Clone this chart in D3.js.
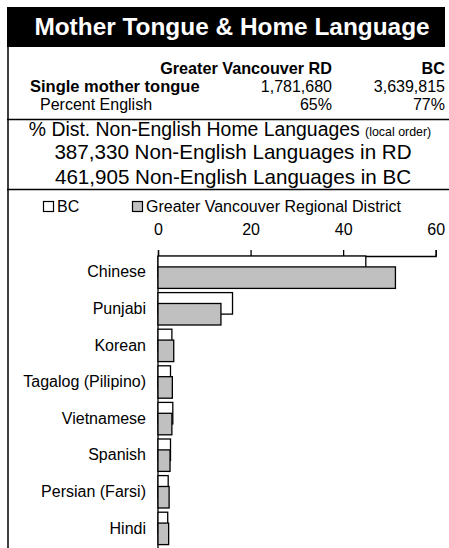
<!DOCTYPE html>
<html>
<head>
<meta charset="utf-8">
<script src="https://cdn.jsdelivr.net/npm/d3@7"></script>
<style>
  body { margin: 0; background: #fff; }
  text { font-family: "Liberation Sans", Arial, sans-serif; fill: #000; }
</style>
</head>
<body>
<script>
const languages = ["Chinese", "Punjabi", "Korean", "Tagalog (Pilipino)", "Vietnamese", "Spanish", "Persian (Farsi)", "Hindi"];
const bcValues = [44.9, 16.1, 3.0, 2.7, 3.2, 2.7, 2.2, 2.1];
const rdValues = [51.3, 13.6, 3.4, 3.1, 3.0, 2.6, 2.4, 2.3];
const xTicks = [0, 20, 40, 60];
const seriesNames = ["BC", "Greater Vancouver Regional District"];
const tableHeads = ["Greater Vancouver RD", "BC"];
const motherTongue = ["1,781,680", "3,639,815"];
const percentEnglish = ["65%", "77%"];
const infoLines = ["387,330 Non-English Languages in RD", "461,905 Non-English Languages in BC"];

var width = 449, height = 548;
var svg = d3.select("body").append("svg").attr("width", width).attr("height", height);

// header block
svg.append("rect").attr("x", 7).attr("y", 7).attr("width", 438).attr("height", 40).attr("fill", "#000");
svg.append("text").attr("x", 232).attr("y", 35).attr("text-anchor", "middle")
   .style("font-size", "24.4px").style("font-weight", "bold").style("fill", "#fff")
   .text("Mother Tongue & Home Language");

svg.append("line").attr("x1", 8).attr("x2", 8).attr("y1", 47).attr("y2", height).attr("stroke", "#000").attr("stroke-width", 1.5);
[119.5, 189.5].forEach(function(y){
    svg.append("line").attr("x1", 7).attr("x2", width).attr("y1", y).attr("y2", y).attr("stroke", "#000").attr("stroke-width", 1.5);
});

var colX = [332, 445];
tableHeads.forEach(function(t, i){
    svg.append("text").attr("x", colX[i]).attr("y", 73.5).attr("text-anchor", "end")
       .style("font-size", "16.2px").style("font-weight", "bold").text(t);
});
svg.append("text").attr("x", 30).attr("y", 91.5).style("font-size", "16.5px").style("font-weight", "bold").text("Single mother tongue");
motherTongue.forEach(function(t, i){
    svg.append("text").attr("x", colX[i]).attr("y", 91.5).attr("text-anchor", "end").style("font-size", "16px").text(t);
});
svg.append("text").attr("x", 40).attr("y", 109.5).style("font-size", "16px").text("Percent English");
percentEnglish.forEach(function(t, i){
    svg.append("text").attr("x", colX[i]).attr("y", 109.5).attr("text-anchor", "end").style("font-size", "16px").text(t);
});

var dist = svg.append("text").attr("x", 230).attr("y", 136).attr("text-anchor", "middle").style("font-size", "19.4px");
dist.append("tspan").text("% Dist. Non-English Home Languages ");
dist.append("tspan").style("font-size", "12.4px").text("(local order)");
infoLines.forEach(function(t, i){
    svg.append("text").attr("x", 233).attr("y", 158.5 + i * 25).attr("text-anchor", "middle").style("font-size", "20.6px").text(t);
});

// legend
var fills = ["#fff", "#c0c0c0"];
var legX = [43.5, 132.5];
var legend = svg.append("g").selectAll(".legends").data(seriesNames).enter().append("g").classed("legends", true)
    .attr("transform", function(d, i){ return "translate(" + legX[i] + ",201.5)"; });
legend.append("rect").attr("width", 10).attr("height", 10).attr("fill", function(d, i){ return fills[i]; })
      .attr("stroke", "#000").attr("stroke-width", 1.2);
legend.append("text").attr("x", 13.5).attr("y", 10.5).style("font-size", "16px").text(function(d){ return d; });

// chart
var x = d3.scaleLinear().domain([0, 60]).range([158, 435.7]);
var y = d3.scaleBand().domain(languages).range([256, 544.6]).paddingInner(0.1148).paddingOuter(0);
var bw = y.bandwidth();
var barH = bw * 0.664;

var xAxis = svg.append("g").attr("transform", "translate(0,256)")
    .call(d3.axisTop(x).tickValues(xTicks).tickSize(6).tickSizeOuter(6).tickPadding(15));
xAxis.selectAll("text").style("font-size", "16px").style("font-family", "\"Liberation Sans\", Arial, sans-serif").attr("fill", "#000");
xAxis.selectAll("path, line").attr("stroke", "#000").attr("stroke-width", 1.3);

var yAxis = svg.append("g").attr("transform", "translate(158,0)")
    .call(d3.axisLeft(y).tickSize(0).tickPadding(12));
yAxis.select(".domain").remove();
yAxis.selectAll("text").style("font-size", "16px").style("font-family", "\"Liberation Sans\", Arial, sans-serif").attr("fill", "#000");
svg.append("line").attr("x1", x(0)).attr("x2", x(0)).attr("y1", 256).attr("y2", height).attr("stroke", "#000").attr("stroke-width", 1.3);

var bars = svg.append("g");
bars.selectAll(".bc").data(languages).enter().append("rect").classed("bc", true)
    .attr("x", x(0)).attr("y", function(d){ return y(d); })
    .attr("width", function(d, i){ return x(bcValues[i]) - x(0); }).attr("height", barH)
    .attr("fill", fills[0]).attr("stroke", "#000").attr("stroke-width", 1.3);
bars.selectAll(".rd").data(languages).enter().append("rect").classed("rd", true)
    .attr("x", x(0)).attr("y", function(d){ return y(d) + bw - barH; })
    .attr("width", function(d, i){ return x(rdValues[i]) - x(0); }).attr("height", barH)
    .attr("fill", fills[1]).attr("stroke", "#000").attr("stroke-width", 1.3);
</script>
</body>
</html>
